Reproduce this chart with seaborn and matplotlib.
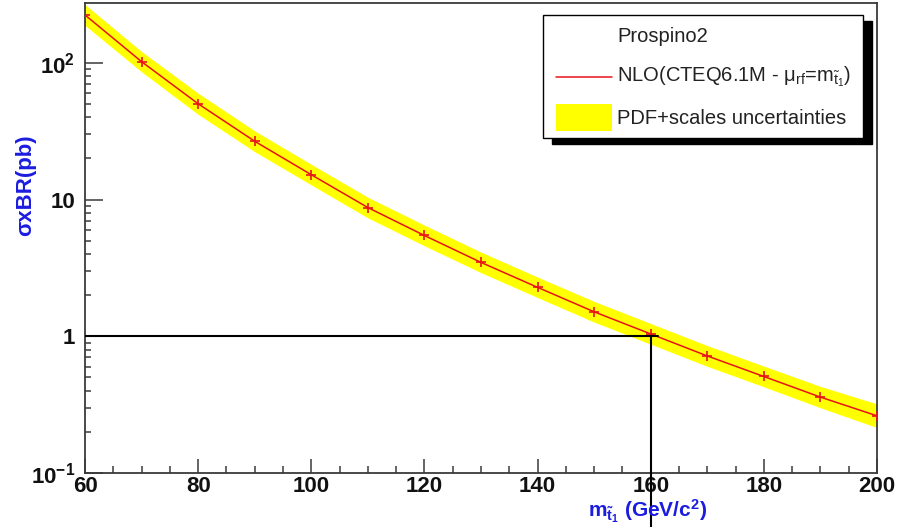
import matplotlib
matplotlib.use("Agg")
import matplotlib.pyplot as plt
from matplotlib.patches import Rectangle
from matplotlib.lines import Line2D
from matplotlib.ticker import FixedLocator, FixedFormatter, MultipleLocator, LogLocator, NullFormatter
import numpy as np
import pandas as pd
import seaborn as sns

# Stop-pair cross section x BR (pb) vs stop mass (GeV/c^2), Prospino2 NLO
stop_mass = [60, 70, 80, 90, 100, 110, 120, 130, 140, 150, 160, 170, 180, 190, 200]
xsec_nlo = [224, 102, 50.2, 26.7, 15.2, 8.74, 5.46, 3.47, 2.28, 1.51, 1.04, 0.718, 0.508, 0.359, 0.262]
xsec_up = [267, 121, 60.0, 31.8, 18.1, 10.4, 6.50, 4.13, 2.71, 1.80, 1.24, 0.855, 0.605, 0.430, 0.320]
xsec_down = [188, 86, 42.0, 22.4, 12.8, 7.35, 4.59, 2.92, 1.92, 1.27, 0.875, 0.603, 0.427, 0.300, 0.215]

# Limit read-off lines
xsec_limit = 1.0
mass_limit = 160

ytick_values = [0.1, 1, 10, 100]
ytick_labels = [r"$10^{-1}$", "1", "10", r"$10^{2}$"]
legend_labels = ["Prospino2",
                 r"NLO(CTEQ6.1M - $\mathrm{\mu_{rf}}$=$\mathrm{m_{\tilde{t}_{1}}}$)",
                 "PDF+scales uncertainties"]

sns.set_theme(style="white")
plt.rcParams["font.family"] = ["Liberation Sans", "DejaVu Sans"]
plt.rcParams["mathtext.fontset"] = "custom"
plt.rcParams["mathtext.rm"] = "Liberation Sans"
plt.rcParams["mathtext.it"] = "Liberation Sans:italic"
plt.rcParams["mathtext.bf"] = "Liberation Sans:bold"
plt.rcParams["mathtext.default"] = "bf"

W, H = 915, 527
fig = plt.figure(figsize=(W / 100, H / 100), dpi=100)
ax = fig.add_axes([85 / W, (H - 473) / H, 792 / W, 470 / H])

df = pd.DataFrame({"mass": stop_mass, "xsec": xsec_nlo})

ax.fill_between(stop_mass, xsec_down, xsec_up, color="#ffff00", lw=0, zorder=1)
sns.lineplot(data=df, x="mass", y="xsec", ax=ax, color="#e8121a", lw=1.1,
             marker="+", markersize=7, markeredgewidth=1.2, markeredgecolor="#e8121a",
             zorder=3)

ax.set_yscale("log")
ax.set_xlim(60, 200)
ax.set_ylim(0.1, 274)

# Limit lines: horizontal at 1 pb, vertical at 160 GeV running past the axis
ax.plot([60, mass_limit + 1.3], [xsec_limit, xsec_limit], color="black", lw=1.5, zorder=4)
ax.plot([mass_limit, mass_limit], [0.03, xsec_limit], color="black", lw=1.5,
        zorder=4, clip_on=False)

ax.set_xlabel("")
ax.set_ylabel("")

frame_col = "#3a3a3a"
for side, sp in ax.spines.items():
    sp.set_color(frame_col)
    sp.set_linewidth(1.3)
    sp.set_visible(True)

ax.xaxis.set_major_locator(MultipleLocator(20))
ax.xaxis.set_minor_locator(MultipleLocator(5))
ax.yaxis.set_major_locator(FixedLocator(ytick_values))
ax.yaxis.set_major_formatter(FixedFormatter(ytick_labels))
ax.yaxis.set_minor_locator(LogLocator(base=10, subs=np.arange(2, 10)))
ax.yaxis.set_minor_formatter(NullFormatter())

ax.tick_params(axis="x", which="major", direction="in", length=10, width=1.1,
               color=frame_col, labelsize=16, pad=2, bottom=True, top=False)
ax.tick_params(axis="x", which="minor", direction="in", length=5, width=1.1,
               color=frame_col, bottom=True, top=False)
ax.tick_params(axis="y", which="major", direction="in", length=13, width=1.1,
               color=frame_col, labelsize=16, pad=7, left=True, right=False)
ax.tick_params(axis="y", which="minor", direction="in", length=4.5, width=1.1,
               color=frame_col, left=True, right=False)
for lab in ax.get_xticklabels() + ax.get_yticklabels():
    lab.set_fontweight("bold")
    lab.set_color("#111111")

axis_blue = "#1c1ce0"
fig.text(648 / W, 1 - 511 / H, r"m$_{\tilde{t}_{1}}$ (GeV/c$^{2}$)", ha="center",
         va="center", fontsize=15, fontweight="bold", color=axis_blue)
fig.text(26 / W, 1 - 185 / H, "σxBR(pb)", ha="center", va="center", rotation=90,
         fontsize=16, fontweight="bold", color=axis_blue)


def fx(px):
    return px / W


def fy(py):
    return 1 - py / H


# Legend box with a solid drop shadow
bx0, by0, bx1, by1 = 543, 15, 863, 138
ax.add_patch(Rectangle((fx(bx0 + 9), fy(by1 + 6)), (bx1 - bx0) / W, (by1 - by0) / H,
                       transform=fig.transFigure, facecolor="black", edgecolor="black",
                       clip_on=False, zorder=6))
ax.add_patch(Rectangle((fx(bx0), fy(by1)), (bx1 - bx0) / W, (by1 - by0) / H,
                       transform=fig.transFigure, facecolor="white", edgecolor="black",
                       lw=1.0, clip_on=False, zorder=7))
ax.add_line(Line2D([fx(556), fx(612)], [fy(77), fy(77)], transform=fig.transFigure,
                   color="#e8121a", lw=1.1, clip_on=False, zorder=8))
ax.add_patch(Rectangle((fx(556), fy(131)), 56 / W, 27 / H, transform=fig.transFigure,
                       facecolor="#ffff00", edgecolor="none", clip_on=False, zorder=8))
for label, ypx in zip(legend_labels, [37, 77, 118]):
    fig.text(fx(617), fy(ypx), label, ha="left", va="center", fontsize=14.5,
             fontweight="normal", color="#222222", zorder=9)

fig.savefig("out.png", dpi=100)
